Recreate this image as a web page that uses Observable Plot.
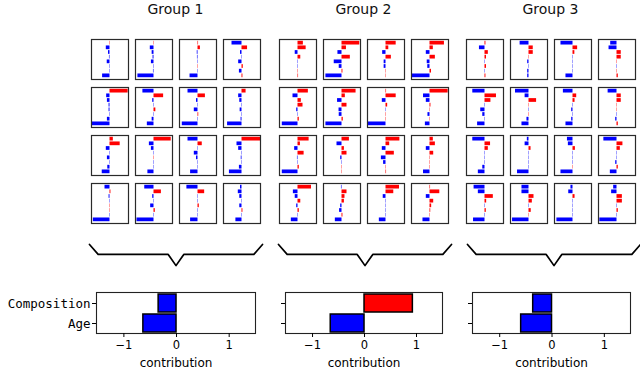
<!DOCTYPE html>
<html>
<head>
<meta charset="utf-8">
<script src="https://cdn.jsdelivr.net/npm/d3@7"></script>
<script src="https://cdn.jsdelivr.net/npm/@observablehq/plot@0.6"></script>
<style>
  html, body { margin: 0; padding: 0; background: #fff; }
  #root { position: relative; width: 640px; height: 371px; overflow: hidden; font-family: "DejaVu Sans", sans-serif; }
  .abs { position: absolute; }
  .title { position: absolute; top: 1px; width: 180px; text-align: center; font-size: 14px; color: #111; }
  svg { overflow: visible; }
</style>
</head>
<body>
<div id="root"></div>
<script>
// ---- data ----
const groupTitles = ["Group 1", "Group 2", "Group 3"];
// each group: 16 panels (row-major, 4x4), 8 feature contributions each (top to bottom)
const group1 = [
  [0.02,-0.2,-0.08,-0.03,-0.15,-0.02,-0.02,-0.4],
  [0.02,-0.2,-0.1,-0.05,-0.14,-0.02,-0.03,-0.87],
  [0.03,0.13,-0.04,-0.03,-0.02,0.02,-0.02,-0.43],
  [-0.54,0.3,-0.08,-0.02,-0.18,0.07,-0.14,0.05],
  [0.98,-0.18,-0.14,-0.05,-0.05,-0.02,-0.14,-0.95],
  [-0.6,0.52,-0.07,-0.02,0.1,-0.02,-0.1,-0.36],
  [-0.54,0.4,-0.08,-0.02,-0.2,0.04,-0.02,-0.85],
  [0.22,-0.18,-0.12,-0.02,-0.1,-0.02,-0.05,-0.78],
  [0.18,0.55,-0.2,-0.02,-0.14,-0.02,-0.12,-0.42],
  [0.93,-0.25,-0.14,-0.02,0.02,-0.02,-0.02,-0.33],
  [-0.54,0.23,-0.02,-0.2,-0.08,-0.02,-0.02,-0.4],
  [1.0,-0.27,-0.18,-0.02,-0.04,-0.02,-0.14,-0.68],
  [-0.27,0.05,-0.05,-0.02,0.02,0.02,-0.02,-0.9],
  [-0.5,0.4,-0.07,-0.02,-0.18,0.07,-0.02,-0.92],
  [-0.6,0.36,-0.02,-0.02,0.07,-0.02,-0.02,-0.4],
  [-0.08,-0.2,-0.12,-0.02,-0.12,0.05,-0.02,-0.33]
];
const group2 = [
  [0.29,0.44,-0.15,0.15,-0.02,-0.02,0.02,0.03],
  [0.96,0.24,-0.22,0.45,-0.42,-0.15,0.05,-0.87],
  [0.55,0.15,-0.18,0.29,-0.1,-0.1,0.02,0.02],
  [0.78,0.18,-0.2,0.29,-0.15,-0.12,0.08,-0.96],
  [0.56,-0.27,0.18,0.27,-0.07,-0.02,0.07,-0.85],
  [0.76,0.18,-0.24,0.27,-0.16,-0.15,0.07,-0.87],
  [0.03,0.55,-0.2,0.09,-0.02,0.02,0.02,-0.95],
  [0.98,-0.35,-0.2,0.05,0.02,-0.11,0.02,-0.25],
  [0.6,0.13,-0.18,0.33,-0.03,-0.02,0.07,-0.85],
  [0.4,-0.27,0.13,0.27,-0.07,-0.02,0.02,0.02],
  [0.75,0.2,-0.2,0.45,-0.25,-0.13,0.02,0.03],
  [0.18,0.29,-0.2,0.2,0.02,0.02,0.02,-0.35],
  [0.73,-0.25,-0.15,0.15,-0.07,0.07,-0.02,-0.36],
  [-0.03,0.27,0.16,0.13,-0.07,-0.13,0.05,-0.36],
  [0.73,0.42,-0.15,-0.02,-0.02,-0.02,-0.02,-0.36],
  [0.03,0.53,-0.2,0.2,0.09,0.04,0.02,-0.38]
];
const group3 = [
  [0.05,-0.3,0.18,0.08,-0.02,0.08,-0.02,0.05],
  [-0.48,0.23,0.23,0.02,-0.07,-0.02,-0.07,-0.07],
  [-0.65,0.25,0.1,-0.02,-0.02,-0.02,-0.02,-0.38],
  [-0.34,-0.43,0.23,0.23,0.02,-0.02,0.02,0.07],
  [-0.66,0.62,0.32,-0.02,-0.23,-0.12,-0.02,-0.4],
  [-0.73,-0.21,0.41,0.02,-0.02,0.02,-0.11,-0.38],
  [-0.52,0.2,0.11,-0.02,-0.07,-0.02,-0.07,-0.38],
  [-0.48,0.23,0.23,0.02,0.02,-0.02,-0.07,0.07],
  [-0.66,0.3,0.18,-0.02,-0.02,-0.02,-0.12,-0.36],
  [-0.09,-0.21,0.11,-0.02,-0.02,-0.02,-0.02,-0.62],
  [-0.3,-0.25,0.13,-0.02,-0.02,-0.02,0.02,-0.65],
  [-0.71,0.32,0.18,-0.02,-0.02,-0.07,0.07,-0.36],
  [-0.59,-0.36,0.45,0.09,-0.02,0.07,-0.02,-0.62],
  [-0.38,-0.38,0.27,0.18,-0.02,0.12,0.02,-0.89],
  [-0.11,-0.23,0.11,-0.02,-0.02,-0.02,-0.02,-0.87],
  [-0.18,-0.29,0.29,0.29,-0.02,0.07,-0.02,-0.93]
];
const summaryFeatures = ["Composition", "Age"];
const compositionValues = [-0.34, 0.93, -0.36];
const ageValues = [-0.63, -0.65, -0.59];
const xTicks = [-1, 0, 1];
// brace outline (normalized)
const braceShape = [[0,1],[0.05,0.55],[0.455,0.55],[0.5,0.04],[0.545,0.55],[0.95,0.55],[1,1]];

// ---- layout ----
const root = document.getElementById("root");
const groups = [group1, group2, group3];
const groupLeft = [91, 279, 466];
const rowTop = [39, 87, 135, 183];
const colPitch = 44;
const pw = 37, ph = 40;
const RED = "#ff0000", BLUE = "#0000ff";

function place(el, left, top) {
  el.classList.add("abs");
  el.style.left = left + "px";
  el.style.top = top + "px";
  root.appendChild(el);
}

groups.forEach((g, gi) => {
  const t = document.createElement("div");
  t.className = "title";
  t.textContent = groupTitles[gi];
  t.style.left = (groupLeft[gi] + (3 * colPitch + pw) / 2 - 90) + "px";
  root.appendChild(t);

  g.forEach((vals, pi) => {
    const r = Math.floor(pi / 4), c = pi % 4;
    const data = vals.map((v, i) => ({i, v}));
    const chart = Plot.plot({
      width: pw, height: ph, margin: 0,
      x: {domain: [-1, 1], axis: null},
      y: {domain: [7.78, -0.78], axis: null},
      marks: [
        Plot.rect(data, {x1: 0, x2: "v", y1: d => d.i - 0.4, y2: d => d.i + 0.4,
          fill: d => d.v > 0 ? RED : BLUE}),
        Plot.frame({stroke: "#2a2a2a", strokeWidth: 1.2})
      ]
    });
    place(chart, groupLeft[gi] + c * colPitch, rowTop[r]);
  });
});

// braces
const braceLeft = [88, 277, 466];
const braceWidth = [175, 175, 175];
braceLeft.forEach((bl, bi) => {
  const b = Plot.plot({
    width: braceWidth[bi], height: 24, margin: 1,
    x: {domain: [0, 1], axis: null},
    y: {domain: [0, 1], axis: null},
    marks: [Plot.line(braceShape, {x: d => d[0], y: d => d[1], stroke: "#000", strokeWidth: 1.7})]
  });
  place(b, bl, 243);
});

// summary bar charts
const fmt = d => d < 0 ? "\u2212" + (-d) : String(d);
const summaryLayout = [
  {left: 0, width: 262, ml: 96, mr: 7},
  {left: 270, width: 180, ml: 15, mr: 8},
  {left: 460, width: 180, ml: 12, mr: 10}
];
summaryLayout.forEach((L, si) => {
  const data = [
    {f: summaryFeatures[0], v: compositionValues[si]},
    {f: summaryFeatures[1], v: ageValues[si]}
  ];
  const chart = Plot.plot({
    width: L.width, height: 86,
    marginLeft: L.ml, marginRight: L.mr, marginTop: 7, marginBottom: 38,
    style: {fontFamily: "DejaVu Sans", color: "#000", background: "transparent"},
    x: {domain: [-1.52, 1.5]},
    y: {domain: summaryFeatures, paddingInner: 0.1, paddingOuter: 0.03},
    marks: [
      Plot.barX(data, {x1: 0, x2: "v", y: "f", fill: d => d.v > 0 ? RED : BLUE, stroke: "#000", strokeWidth: 1.5}),
      Plot.frame({stroke: "#222", strokeWidth: 1.1}),
      Plot.axisX({ticks: xTicks, tickSize: 4, tickFormat: fmt, label: null, fontSize: 11.5, tickPadding: 3}),
      Plot.axisY({tickSize: 4, label: null, tickPadding: 2,
        tickFormat: si === 0 ? (d => d) : (() => ""),
        fontFamily: "DejaVu Sans Mono", fontSize: 12.5, fontWeight: 500}),
      Plot.text(["contribution"], {frameAnchor: "bottom", dy: 30, fontSize: 12, lineAnchor: "middle"})
    ]
  });
  place(chart, L.left, 285);
});
</script>
</body>
</html>
